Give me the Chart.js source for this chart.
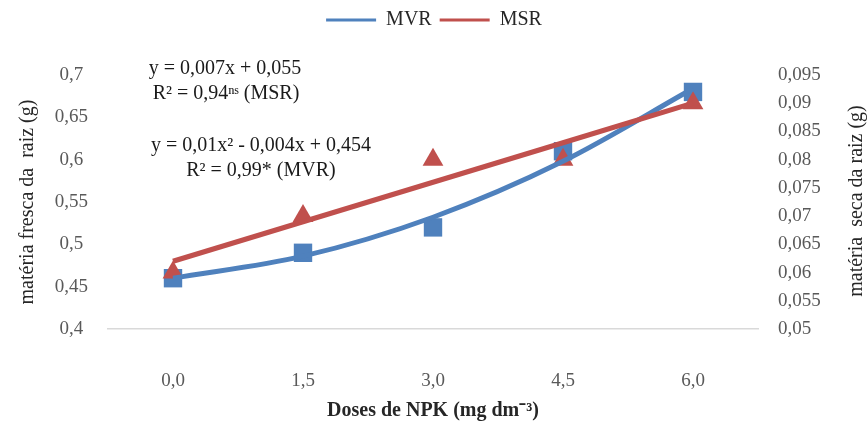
<!DOCTYPE html>
<html lang="pt">
<head>
<meta charset="utf-8">
<title>Doses de NPK</title>
<script src="https://cdn.jsdelivr.net/npm/chart.js@4.4.1/dist/chart.umd.min.js"></script>
<style>
    html, body { margin: 0; padding: 0; background: #fff; }
    #wrap { position: relative; width: 868px; height: 433px; }
</style>
</head>
<body>
<div id="wrap"><canvas id="npkChart"></canvas></div>
<script>
// Data
const doses = ['0,0', '1,5', '3,0', '4,5', '6,0'];
const mvrValues = [0.46, 0.49, 0.52, 0.61, 0.68];      // matéria fresca (left axis)
const msrValues = [0.06, 0.07, 0.08, 0.08, 0.09];      // matéria seca (right axis)
const mvrTrend = [0.46, 0.486, 0.532, 0.598, 0.684];
const msrTrend = [0.062, 0.069, 0.076, 0.083, 0.09];
const equationLines = [
    'y = 0,007x + 0,055',
    'R² = 0,94ⁿˢ (MSR)',
    'y = 0,01x² - 0,004x + 0,454',
    'R² = 0,99* (MVR)'
];

const BLUE = '#4F81BD';
const RED = '#C0504D';
const SERIF = '"Liberation Serif", "Times New Roman", serif';
const LEGEND_GAP = 35;

const fmt = v => String(+Number(v).toFixed(3)).replace('.', ',');

// equations, right axis title (reads bottom to top like the left one), legend spacing
const extrasPlugin = {
    id: 'extras',
    beforeLayout(chart) {
        const lg = chart.legend;
        if (lg && !lg._gapPatched) {
            const fit = lg.fit;
            lg.fit = function () {
                fit.call(this);
                this.height += LEGEND_GAP;
            };
            lg._gapPatched = true;
        }
    },
    afterDraw(chart) {
        const ctx = chart.ctx;
        ctx.save();
        ctx.fillStyle = '#1a1a1a';
        ctx.font = '20px ' + SERIF;
        ctx.textAlign = 'center';
        ctx.textBaseline = 'middle';
        const spots = [[225, 69], [226, 94], [261, 146], [261, 171]];
        equationLines.forEach((txt, i) => ctx.fillText(txt, spots[i][0], spots[i][1]));

        ctx.translate(857, 201);
        ctx.rotate(-Math.PI / 2);
        ctx.fillStyle = '#262626';
        ctx.fillText('matéria  seca da raiz (g)', 0, 0);
        ctx.restore();
    }
};

new Chart(document.getElementById('npkChart'), {
    type: 'line',
    data: {
        labels: doses,
        datasets: [{
            label: 'MSR trend',
            data: msrTrend,
            yAxisID: 'y1',
            borderColor: RED,
            backgroundColor: RED,
            borderWidth: 5,
            pointRadius: 0,
            fill: false,
            order: 0
        }, {
            label: 'MVR trend',
            data: mvrTrend,
            yAxisID: 'y',
            borderColor: BLUE,
            backgroundColor: BLUE,
            borderWidth: 5,
            pointRadius: 0,
            cubicInterpolationMode: 'monotone',
            fill: false,
            order: 1
        }, {
            label: 'MSR',
            data: msrValues,
            yAxisID: 'y1',
            showLine: false,
            pointStyle: 'triangle',
            pointRadius: 12,
            pointBackgroundColor: RED,
            pointBorderColor: RED,
            pointBorderWidth: 0,
            order: 2
        }, {
            label: 'MVR',
            data: mvrValues,
            yAxisID: 'y',
            showLine: false,
            pointStyle: 'rect',
            pointRadius: 13,
            pointBackgroundColor: BLUE,
            pointBorderColor: BLUE,
            pointBorderWidth: 0,
            order: 3
        }]
    },
    options: {
        responsive: true,
        maintainAspectRatio: false,
        animation: false,
        layout: {
            padding: { top: 2, left: 0, right: 0, bottom: 0 }
        },
        plugins: {
            tooltip: { enabled: false },
            legend: {
                position: 'top',
                labels: {
                    boxWidth: 50,
                    boxHeight: 3,
                    padding: 8,
                    color: '#262626',
                    font: { family: SERIF, size: 20 },
                    generateLabels: () => [
                        { text: 'MVR', fillStyle: BLUE, strokeStyle: BLUE, lineWidth: 0, fontColor: '#262626' },
                        { text: 'MSR', fillStyle: RED, strokeStyle: RED, lineWidth: 0, fontColor: '#262626' }
                    ]
                }
            }
        },
        scales: {
            x: {
                offset: true,
                grid: { display: false },
                border: { display: true, color: '#d9d9d9', width: 1.5 },
                ticks: {
                    color: '#595959',
                    padding: 33,
                    font: { family: SERIF, size: 19 }
                },
                title: {
                    display: true,
                    text: 'Doses de NPK (mg dm⁻³)',
                    color: '#262626',
                    font: { family: SERIF, size: 20, weight: 'bold' },
                    padding: { top: 0, bottom: 10 }
                },
                afterFit: s => { s.height = 104; }
            },
            y: {
                position: 'left',
                min: 0.4,
                max: 0.7,
                grid: { display: false },
                border: { display: false },
                ticks: {
                    stepSize: 0.05,
                    color: '#595959',
                    crossAlign: 'center',
                    padding: 12,
                    font: { family: SERIF, size: 19 },
                    callback: v => fmt(v)
                },
                title: {
                    display: true,
                    text: 'matéria fresca da  raiz (g)',
                    color: '#262626',
                    font: { family: SERIF, size: 20 },
                    padding: { top: 16, bottom: 0 }
                },
                afterFit: s => { s.width = 108; }
            },
            y1: {
                position: 'right',
                min: 0.05,
                max: 0.095,
                grid: { display: false },
                border: { display: false },
                ticks: {
                    stepSize: 0.005,
                    color: '#595959',
                    padding: 12,
                    font: { family: SERIF, size: 19 },
                    callback: v => fmt(v)
                },
                afterFit: s => { s.width = 110; }
            }
        }
    },
    plugins: [extrasPlugin]
});
</script>
</body>
</html>
